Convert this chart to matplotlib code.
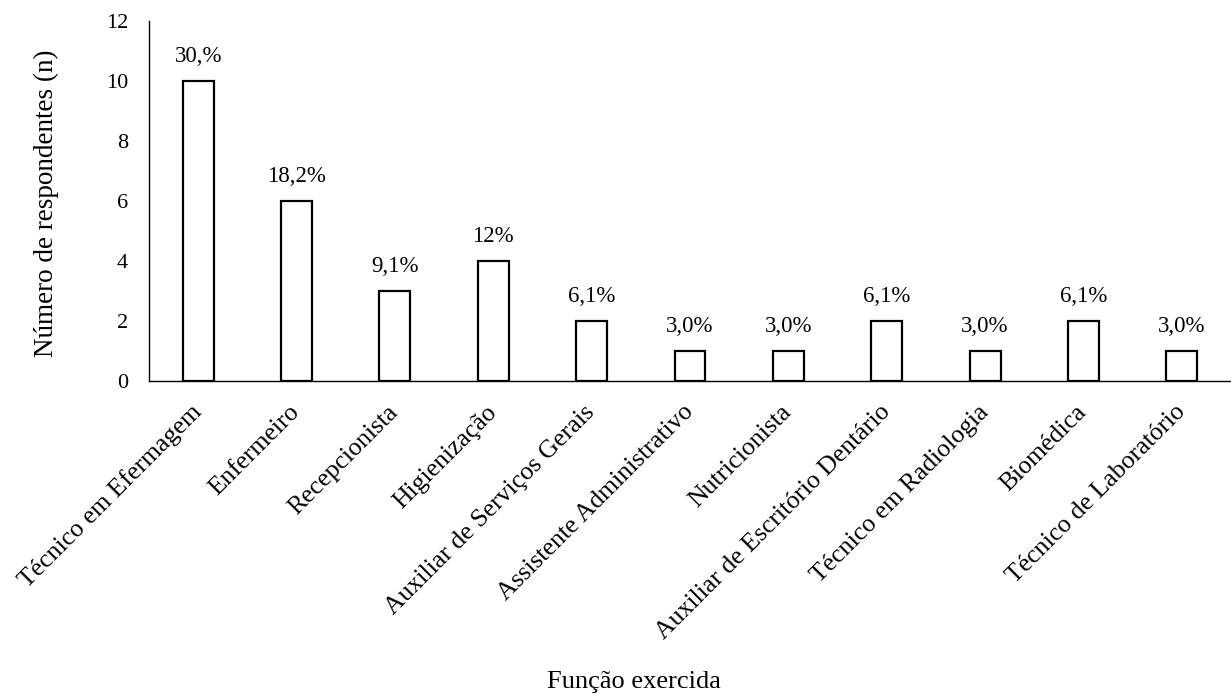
import matplotlib.pyplot as plt
import numpy as np

plt.rcParams['font.family'] = ['Liberation Serif', 'DejaVu Serif']

funcoes = ['Técnico em Efermagem', 'Enfermeiro', 'Recepcionista', 'Higienização',
           'Auxiliar de Serviços Gerais', 'Assistente Administrativo', 'Nutricionista',
           'Auxiliar de Escritório Dentário', 'Técnico em Radiologia', 'Biomédica',
           'Técnico de Laboratório']
n = [10, 6, 3, 4, 2, 1, 1, 2, 1, 2, 1]
pct = ['30,%', '18,2%', '9,1%', '12%', '6,1%', '3,0%', '3,0%', '6,1%', '3,0%', '6,1%', '3,0%']

fig = plt.figure(figsize=(12.31, 6.97), dpi=100)
ax = fig.add_axes([149/1231, 1 - 381/697, 1 - 149/1231, (381 - 21)/697])

x = np.arange(len(funcoes))
bars = ax.bar(x, n, width=0.315, color='white', edgecolor='black', linewidth=1.6, zorder=2)
for b, p in zip(bars, pct):
    ax.text(b.get_x() + b.get_width()/2, b.get_height() + 0.45, p,
            ha='center', va='bottom', fontsize=16.5)

ax.set_xlim(-0.5, len(funcoes) - 0.5)
ax.set_ylim(0, 12)
ax.set_yticks(range(0, 13, 2))
ax.set_xticks(x)
ax.set_xticklabels(funcoes, rotation=45, ha='right', va='center', rotation_mode='anchor', fontsize=18.5)
ax.tick_params(axis='both', length=0)
ax.tick_params(axis='y', pad=15, labelsize=16)
ax.tick_params(axis='x', pad=20)
for s in ['top', 'right']:
    ax.spines[s].set_visible(False)
for s in ['left', 'bottom']:
    ax.spines[s].set_linewidth(1.0)

ax.set_ylabel('Número de respondentes (n)', fontsize=19.5)
ax.yaxis.set_label_coords((59 - 149)/1082, (381 - 203.5)/360)
fig.text(634/1231, 1 - 682/697, 'Função exercida', ha='center', va='center', fontsize=19)

fig.savefig('out.png', dpi=100)
